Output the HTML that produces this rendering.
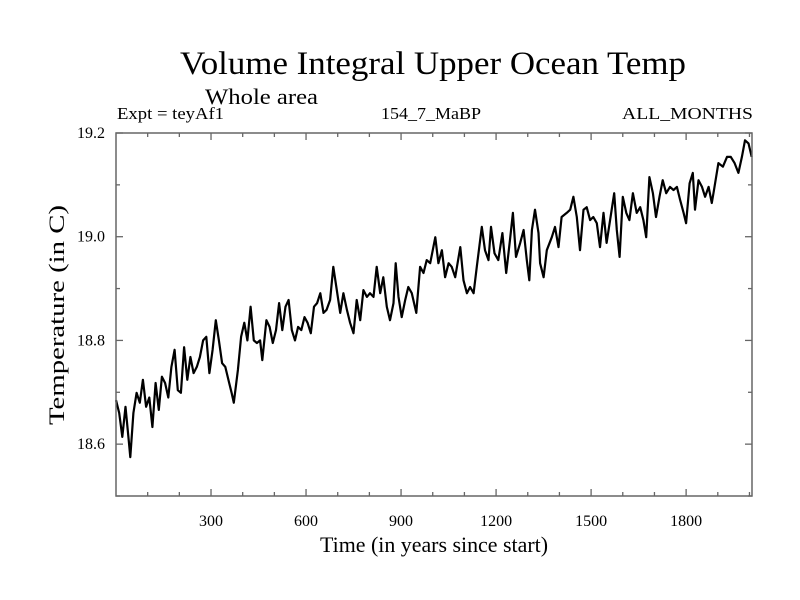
<!DOCTYPE html>
<html><head><meta charset="utf-8"><style>
body{margin:0;background:#fff}
svg{display:block;font-family:"Liberation Serif",serif}
</style></head><body>
<svg width="800" height="600" viewBox="0 0 800 600">
<text x="180" y="74" font-size="33" textLength="506" lengthAdjust="spacingAndGlyphs">Volume Integral Upper Ocean Temp</text>
<text x="205" y="104" font-size="22" textLength="113" lengthAdjust="spacingAndGlyphs">Whole area</text>
<text x="117" y="119" font-size="17" textLength="107" lengthAdjust="spacingAndGlyphs">Expt = teyAf1</text>
<text x="381" y="119" font-size="17" textLength="100" lengthAdjust="spacingAndGlyphs">154_7_MaBP</text>
<text x="622" y="119" font-size="17" textLength="131" lengthAdjust="spacingAndGlyphs">ALL_MONTHS</text>
<text x="320" y="552" font-size="22" textLength="228" lengthAdjust="spacingAndGlyphs">Time (in years since start)</text>
<text transform="translate(64,425) rotate(-90)" font-size="22" textLength="220" lengthAdjust="spacingAndGlyphs">Temperature (in C)</text>
<g id="axes"></g>
<path id="series" fill="none" stroke="#000" stroke-width="2.2" stroke-linejoin="round"/>
<rect x="116" y="133" width="636" height="363" fill="none" stroke="#666" stroke-width="1.5"/>
</svg>
<script>
const years=[0,10,20,30,40,45,55,65,75,85,95,105,115,125,135,145,155,165,175,185,195,205,215,225,235,245,255,265,275,285,295,305,315,325,335,345,355,365,372,385,395,405,415,425,435,445,455,462,475,485,495,505,515,525,535,545,555,565,575,585,595,605,615,625,635,645,655,665,676,686,697,708,718,729,739,750,760,771,781,792,802,813,823,834,844,855,865,876,883,892,902,913,923,934,948,960,971,981,992,1008,1018,1029,1039,1050,1060,1071,1087,1097,1108,1118,1129,1139,1155,1165,1176,1184,1195,1207,1220,1232,1244,1253,1263,1276,1287,1297,1305,1313,1323,1334,1339,1350,1360,1376,1386,1397,1407,1423,1434,1444,1455,1465,1476,1486,1497,1507,1518,1528,1539,1549,1560,1573,1581,1590,1600,1611,1621,1632,1644,1655,1665,1674,1684,1695,1705,1716,1726,1737,1749,1760,1771,1781,1792,1800,1811,1821,1828,1839,1850,1860,1871,1881,1888,1902,1916,1929,1941,1953,1965,1976,1986,1997,2007];
const temps=[18.685,18.66,18.614,18.672,18.608,18.575,18.66,18.699,18.68,18.724,18.672,18.69,18.633,18.718,18.666,18.73,18.718,18.69,18.749,18.782,18.704,18.699,18.787,18.724,18.768,18.737,18.749,18.768,18.80,18.807,18.737,18.782,18.839,18.80,18.756,18.749,18.724,18.699,18.68,18.743,18.807,18.834,18.80,18.865,18.80,18.795,18.80,18.762,18.839,18.826,18.795,18.82,18.872,18.82,18.865,18.878,18.82,18.80,18.826,18.82,18.845,18.834,18.814,18.865,18.872,18.891,18.853,18.859,18.878,18.942,18.897,18.853,18.891,18.859,18.834,18.814,18.878,18.839,18.897,18.884,18.891,18.884,18.942,18.891,18.922,18.865,18.839,18.872,18.949,18.884,18.845,18.878,18.903,18.891,18.853,18.942,18.93,18.955,18.949,18.999,18.949,18.974,18.922,18.949,18.942,18.922,18.98,18.916,18.891,18.903,18.891,18.942,19.019,18.974,18.955,19.019,18.968,18.955,19.007,18.93,18.994,19.046,18.961,18.988,19.013,18.955,18.916,19.013,19.052,19.007,18.949,18.922,18.974,18.999,19.019,18.98,19.038,19.046,19.052,19.077,19.038,18.974,19.052,19.057,19.032,19.038,19.026,18.98,19.046,18.988,19.032,19.084,19.013,18.961,19.077,19.046,19.032,19.084,19.046,19.057,19.032,18.999,19.115,19.084,19.038,19.077,19.109,19.084,19.096,19.09,19.096,19.071,19.046,19.026,19.103,19.123,19.052,19.109,19.096,19.077,19.096,19.065,19.09,19.142,19.135,19.154,19.154,19.142,19.123,19.154,19.186,19.18,19.154];
const xTickLabels=[300,600,900,1200,1500,1800];
const yTickLabels=["18.6","18.8","19.0","19.2"];

const L=116,R=752,T=133,B=496,XMAX=2008,YMIN=18.5,YMAX=19.2;
const xs=v=>L+(v/XMAX)*(R-L);
const ys=v=>B-(v-YMIN)/(YMAX-YMIN)*(B-T);
const NS='http://www.w3.org/2000/svg';
const ax=document.getElementById('axes');
function line(x1,y1,x2,y2,name){
  const l=document.createElementNS(NS,'line');
  l.setAttribute('x1',x1);l.setAttribute('y1',y1);l.setAttribute('x2',x2);l.setAttribute('y2',y2);
  l.setAttribute('stroke','#666');l.setAttribute('stroke-width','1.3');
  
  
  ax.appendChild(l);
}
function text(x,y,s,anchor,name){
  const t=document.createElementNS(NS,'text');
  t.setAttribute('x',x);t.setAttribute('y',y);t.setAttribute('font-size','16');t.setAttribute('text-anchor',anchor);
  t.textContent=s;
  
  
  ax.appendChild(t);
}
for(let v=100;v<XMAX;v+=100){
  const major=v%300===0, len=major?7:4, x=xs(v);
  line(x,B,x,B-len,'x-tick');
  line(x,T,x,T+len,'x-tick-top');
}
xTickLabels.forEach(v=>text(xs(v),526,String(v),'middle','x-tick-label'));
for(let i=0;i<=7;i++){
  const v=YMIN+i*0.1, major=i%2===1, len=major?7:4, y=ys(v);
  line(L,y,L+len,y,'y-tick');
  line(R,y,R-len,y,'y-tick-right');
}
yTickLabels.forEach(s=>text(105,ys(parseFloat(s))+5,s,'end','y-tick-label'));
let d='';
years.forEach((yr,i)=>{d+=(i?'L':'M')+xs(yr).toFixed(1)+','+ys(temps[i]).toFixed(1);});
document.getElementById('series').setAttribute('d',d);
</script>
</body></html>
